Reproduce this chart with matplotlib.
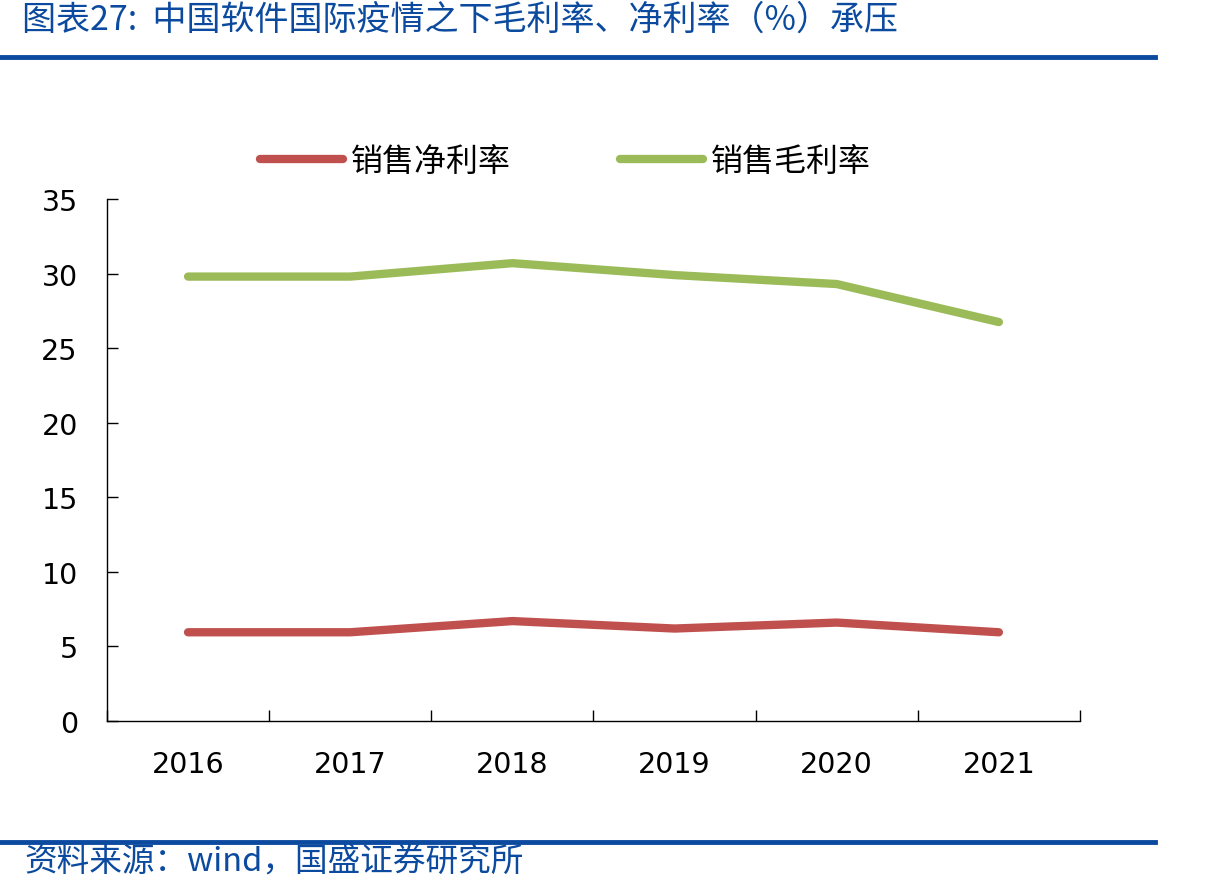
#!/usr/bin/env python3
"""中国软件：销售毛利率 / 销售净利率 2016-2021."""

import matplotlib

matplotlib.use("Agg")
import matplotlib.pyplot as plt
from matplotlib.lines import Line2D

YEARS = ["2016", "2017", "2018", "2019", "2020", "2021"]
NET_MARGIN = [5.95, 5.95, 6.7, 6.2, 6.6, 5.95]
GROSS_MARGIN = [29.8, 29.8, 30.7, 29.9, 29.3, 26.75]

TITLE = "图表27:  中国软件国际疫情之下毛利率、净利率（%）承压"
SOURCE = "资料来源：wind，国盛证券研究所"
LABEL_NET = "销售净利率"
LABEL_GROSS = "销售毛利率"

RED = "#C0504D"
GREEN = "#9BBB59"
BLUE = "#0B4A9E"
CJK = ["Noto Sans CJK SC", "DejaVu Sans"]


def main() -> None:
    plt.rcParams.update({"font.family": "DejaVu Sans", "figure.facecolor": "white"})

    fig = plt.figure(figsize=(12.06, 8.95), dpi=100)
    ax = fig.add_axes([0.0887, 0.1933, 0.8068, 0.5832])

    x = range(len(YEARS))
    ax.plot(x, NET_MARGIN, color=RED, lw=6, solid_capstyle="round", solid_joinstyle="round")
    ax.plot(x, GROSS_MARGIN, color=GREEN, lw=6, solid_capstyle="round", solid_joinstyle="round")

    ax.set_xlim(-0.5, len(YEARS) - 0.5)
    ax.set_ylim(0, 35)
    ax.set_yticks(range(0, 36, 5))
    ax.set_xticks(list(x))
    ax.set_xticklabels(YEARS)
    ax.set_xticks([i - 0.5 for i in range(len(YEARS) + 1)], minor=True)
    ax.tick_params(axis="x", which="major", length=0, pad=21, labelsize=20.5)
    ax.tick_params(axis="x", which="minor", direction="in", length=8, width=1)
    ax.tick_params(axis="y", direction="in", length=8, width=1, pad=21, labelsize=20.5)
    ax.spines[["top", "right"]].set_visible(False)
    for s in ["left", "bottom"]:
        ax.spines[s].set_linewidth(1)

    handles = [Line2D([], [], color=RED, lw=6, solid_capstyle="round"),
               Line2D([], [], color=GREEN, lw=6, solid_capstyle="round")]
    fig.legend(handles, [LABEL_NET, LABEL_GROSS], loc="center", bbox_to_anchor=(0.469, 0.819),
               ncol=2, frameon=False, handlelength=2.6, handletextpad=0.25, columnspacing=3.4,
               prop={"family": CJK, "size": 23})

    fig.text(0.018, 0.977, TITLE, ha="left", va="center", fontsize=24.5, color=BLUE,
             family=CJK, style="italic")
    fig.add_artist(Line2D([0, 0.958], [0.935, 0.935], color=BLUE, lw=3.5))
    fig.add_artist(Line2D([0, 0.958], [0.058, 0.058], color=BLUE, lw=3.5))
    fig.text(0.02, 0.036, SOURCE, ha="left", va="center", fontsize=23.5, color=BLUE,
             family=CJK, style="italic")

    fig.savefig("out.png", dpi=100)


if __name__ == "__main__":
    main()
